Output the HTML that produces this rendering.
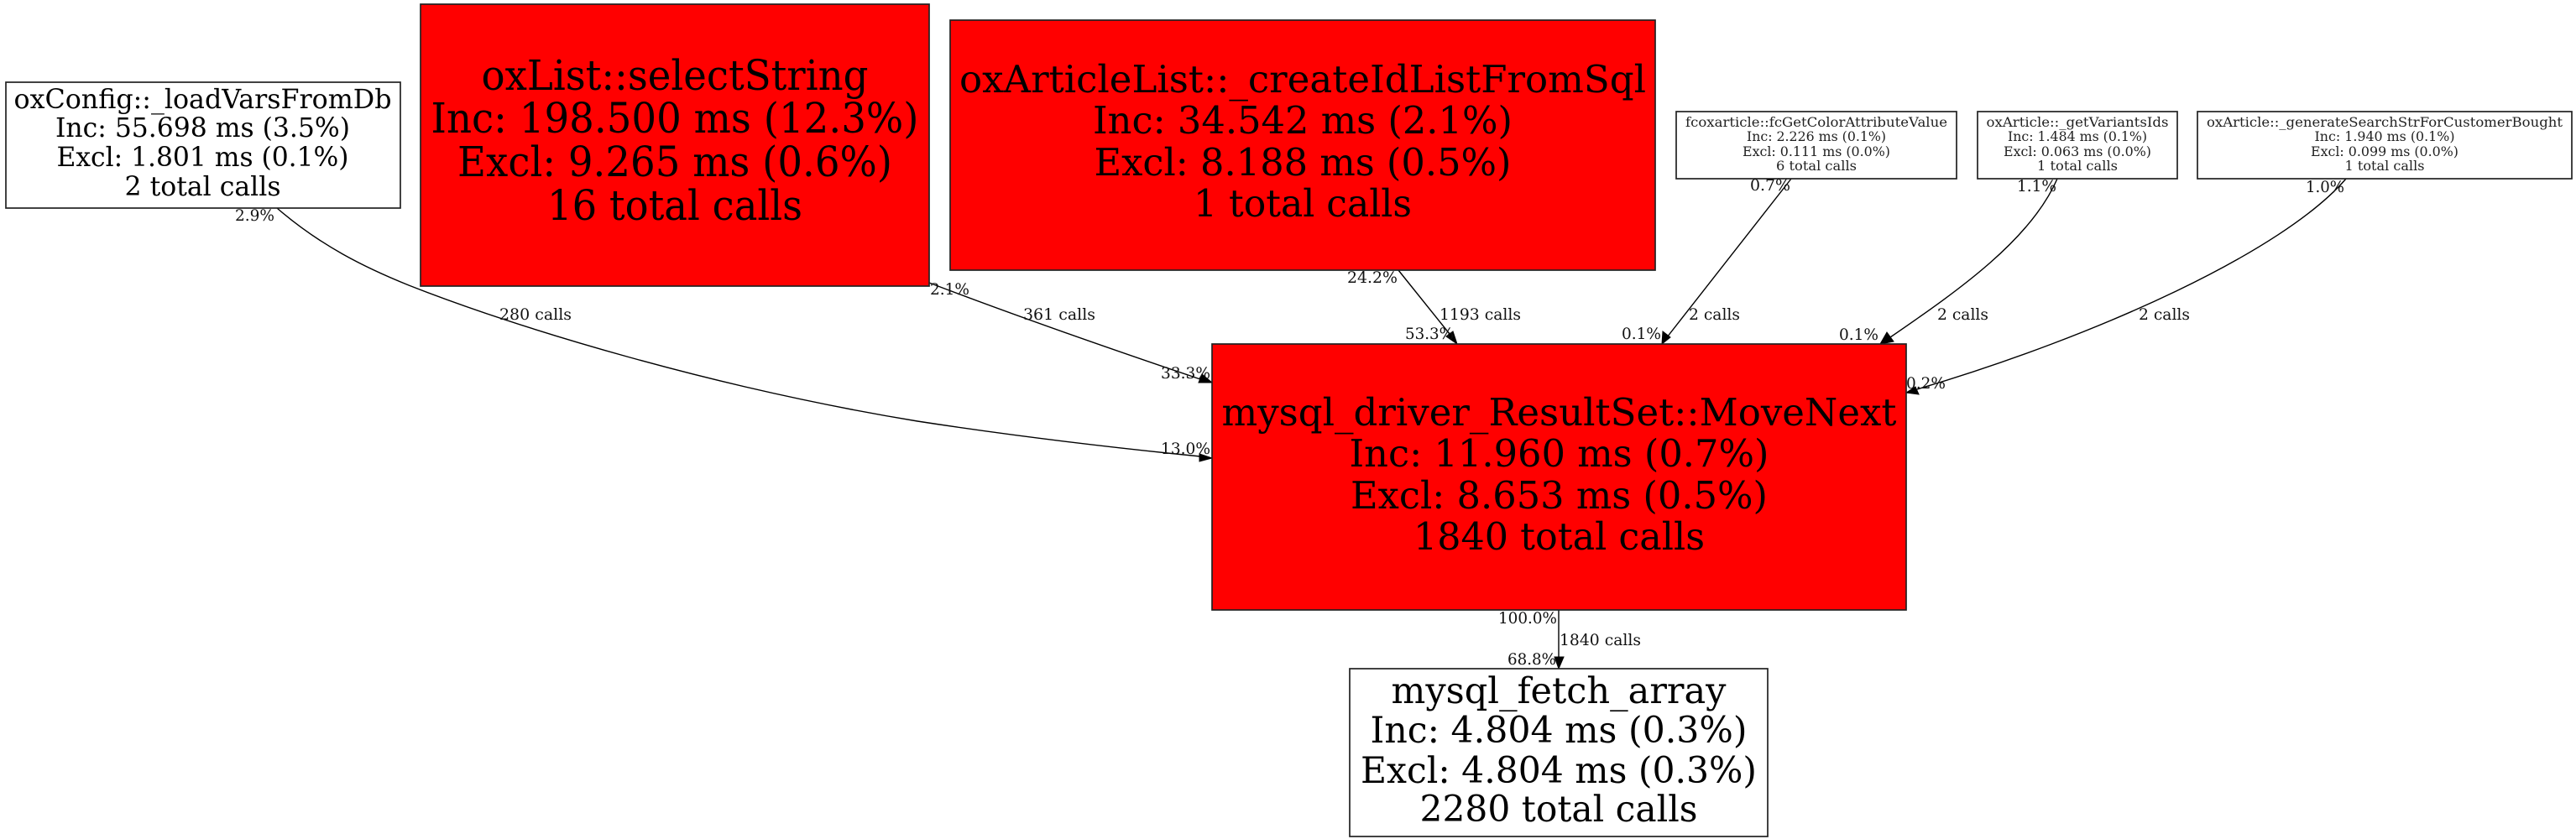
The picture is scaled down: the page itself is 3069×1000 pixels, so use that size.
<!DOCTYPE html>
<html><head><meta charset="utf-8"><style>
html,body{margin:0;padding:0;background:#fff;width:3069px;height:1000px;overflow:hidden}
svg{display:block}
text{font-family:"DejaVu Serif","Liberation Serif",serif;fill:#000}
.m{text-anchor:middle}
.s{fill:#222}
.e{font-size:18.6px;fill:#111}
rect{stroke:#222;stroke-width:1.7}
path{fill:none;stroke:#000;stroke-width:1.4}
polygon{fill:#000;stroke:#000;stroke-width:1}
</style></head><body>
<svg xmlns="http://www.w3.org/2000/svg" width="3069" height="1000" viewBox="0 0 3069 1000">
<rect width="3069" height="1000" style="fill:#fff;stroke:none"/>

<!-- edges -->
<path d="M330 248C382 293 435 319 487 340C620 392 850 462 1093 502C1210 520 1320 533 1430 544"/>
<polygon points="1444,546 1429,541 1429,550"/>
<path d="M1107 337C1180 365 1300 408 1430 452"/>
<polygon points="1444,456 1432,446 1428,456"/>
<path d="M1666 322L1727 398"/>
<polygon points="1736,410 1731,395 1723,401"/>
<path d="M2134 213L1986 402"/>
<polygon points="1980,410 1981,395 1990,402"/>
<path d="M2451 213C2420 285 2335 345 2252 402"/>
<polygon points="2240,410 2248,396 2256,407"/>
<path d="M2795 213C2720 300 2500 400 2284 464"/>
<polygon points="2271,468 2282,461 2286,470"/>
<path d="M1857 727L1857 783"/>
<polygon points="1857,797 1852,783 1863,783"/>

<!-- nodes -->
<rect x="7" y="98" width="470" height="150" style="fill:#fff"/>
<text class="m" x="241.5" y="129" font-size="31.4" textLength="450" lengthAdjust="spacingAndGlyphs">oxConfig::_loadVarsFromDb</text>
<text class="m" x="241.5" y="163" font-size="31.4" textLength="351" lengthAdjust="spacingAndGlyphs">Inc: 55.698 ms (3.5%)</text>
<text class="m" x="241.5" y="198" font-size="31.4" textLength="348" lengthAdjust="spacingAndGlyphs">Excl: 1.801 ms (0.1%)</text>
<text class="m" x="241.5" y="233" font-size="31.4" textLength="186" lengthAdjust="spacingAndGlyphs">2 total calls</text>

<rect x="501" y="5" width="606" height="336" style="fill:#f00"/>
<text class="m" x="804" y="107" font-size="49.2" textLength="461" lengthAdjust="spacingAndGlyphs">oxList::selectString</text>
<text class="m" x="804" y="158" font-size="49.2" textLength="581" lengthAdjust="spacingAndGlyphs">Inc: 198.500 ms (12.3%)</text>
<text class="m" x="804" y="210" font-size="49.2" textLength="518" lengthAdjust="spacingAndGlyphs">Excl: 9.265 ms (0.6%)</text>
<text class="m" x="804" y="262" font-size="49.2" textLength="304" lengthAdjust="spacingAndGlyphs">16 total calls</text>

<rect x="1132" y="24" width="840" height="298" style="fill:#f00"/>
<text class="m" x="1552" y="110" font-size="44.7" textLength="818" lengthAdjust="spacingAndGlyphs">oxArticleList::_createIdListFromSql</text>
<text class="m" x="1552" y="159" font-size="44.7" textLength="500" lengthAdjust="spacingAndGlyphs">Inc: 34.542 ms (2.1%)</text>
<text class="m" x="1552" y="209" font-size="44.7" textLength="497" lengthAdjust="spacingAndGlyphs">Excl: 8.188 ms (0.5%)</text>
<text class="m" x="1552" y="258" font-size="44.7" textLength="260" lengthAdjust="spacingAndGlyphs">1 total calls</text>

<rect x="1997" y="133" width="334" height="80" style="fill:#fff"/>
<text class="m s" x="2164" y="151" font-size="15.75" textLength="312" lengthAdjust="spacingAndGlyphs">fcoxarticle::fcGetColorAttributeValue</text>
<text class="m s" x="2164" y="168" font-size="15.75" textLength="166" lengthAdjust="spacingAndGlyphs">Inc: 2.226 ms (0.1%)</text>
<text class="m s" x="2164" y="186" font-size="15.75" textLength="176" lengthAdjust="spacingAndGlyphs">Excl: 0.111 ms (0.0%)</text>
<text class="m s" x="2164" y="203" font-size="15.75" textLength="96" lengthAdjust="spacingAndGlyphs">6 total calls</text>

<rect x="2356" y="133" width="238" height="80" style="fill:#fff"/>
<text class="m s" x="2475" y="151" font-size="15.75" textLength="217" lengthAdjust="spacingAndGlyphs">oxArticle::_getVariantsIds</text>
<text class="m s" x="2475" y="168" font-size="15.75" textLength="166" lengthAdjust="spacingAndGlyphs">Inc: 1.484 ms (0.1%)</text>
<text class="m s" x="2475" y="186" font-size="15.75" textLength="176" lengthAdjust="spacingAndGlyphs">Excl: 0.063 ms (0.0%)</text>
<text class="m s" x="2475" y="203" font-size="15.75" textLength="96" lengthAdjust="spacingAndGlyphs">1 total calls</text>

<rect x="2618" y="133" width="446" height="80" style="fill:#fff"/>
<text class="m s" x="2841" y="151" font-size="15.75" textLength="424" lengthAdjust="spacingAndGlyphs">oxArticle::_generateSearchStrForCustomerBought</text>
<text class="m s" x="2841" y="168" font-size="15.75" textLength="167" lengthAdjust="spacingAndGlyphs">Inc: 1.940 ms (0.1%)</text>
<text class="m s" x="2841" y="186" font-size="15.75" textLength="176" lengthAdjust="spacingAndGlyphs">Excl: 0.099 ms (0.0%)</text>
<text class="m s" x="2841" y="203" font-size="15.75" textLength="95" lengthAdjust="spacingAndGlyphs">1 total calls</text>

<rect x="1444" y="410" width="827" height="317" style="fill:#f00"/>
<text class="m" x="1857.5" y="507" font-size="44.7" textLength="804" lengthAdjust="spacingAndGlyphs">mysql_driver_ResultSet::MoveNext</text>
<text class="m" x="1857.5" y="556" font-size="44.7" textLength="500" lengthAdjust="spacingAndGlyphs">Inc: 11.960 ms (0.7%)</text>
<text class="m" x="1857.5" y="606" font-size="44.7" textLength="497" lengthAdjust="spacingAndGlyphs">Excl: 8.653 ms (0.5%)</text>
<text class="m" x="1857.5" y="655" font-size="44.7" textLength="347" lengthAdjust="spacingAndGlyphs">1840 total calls</text>

<rect x="1608" y="797" width="498" height="200" style="fill:#fff"/>
<text class="m" x="1857" y="838" font-size="42.6" textLength="399" lengthAdjust="spacingAndGlyphs">mysql_fetch_array</text>
<text class="m" x="1857" y="885" font-size="42.6" textLength="449" lengthAdjust="spacingAndGlyphs">Inc: 4.804 ms (0.3%)</text>
<text class="m" x="1857" y="933" font-size="42.6" textLength="472" lengthAdjust="spacingAndGlyphs">Excl: 4.804 ms (0.3%)</text>
<text class="m" x="1857" y="979" font-size="42.6" textLength="331" lengthAdjust="spacingAndGlyphs">2280 total calls</text>

<!-- edge labels -->
<text class="e" x="280" y="263" textLength="47" lengthAdjust="spacingAndGlyphs">2.9%</text>
<text class="e" x="595" y="381" textLength="86" lengthAdjust="spacingAndGlyphs">280 calls</text>
<text class="e" x="1108" y="351" textLength="47" lengthAdjust="spacingAndGlyphs">2.1%</text>
<text class="e" x="1219" y="381" textLength="86" lengthAdjust="spacingAndGlyphs">361 calls</text>
<text class="e" x="1383" y="451" textLength="59" lengthAdjust="spacingAndGlyphs">33.3%</text>
<text class="e" x="1383" y="541" textLength="59" lengthAdjust="spacingAndGlyphs">13.0%</text>
<text class="e" x="1605" y="337" textLength="60" lengthAdjust="spacingAndGlyphs">24.2%</text>
<text class="e" x="1715" y="381" textLength="97" lengthAdjust="spacingAndGlyphs">1193 calls</text>
<text class="e" x="1674" y="404" textLength="58" lengthAdjust="spacingAndGlyphs">53.3%</text>
<text class="e" x="1932" y="404" textLength="47" lengthAdjust="spacingAndGlyphs">0.1%</text>
<text class="e" x="2012" y="381" textLength="61" lengthAdjust="spacingAndGlyphs">2 calls</text>
<text class="e" x="2308" y="381" textLength="61" lengthAdjust="spacingAndGlyphs">2 calls</text>
<text class="e" x="2548" y="381" textLength="61" lengthAdjust="spacingAndGlyphs">2 calls</text>
<text class="e" x="2191" y="405" textLength="47" lengthAdjust="spacingAndGlyphs">0.1%</text>
<text class="e" x="2271" y="463" textLength="47" lengthAdjust="spacingAndGlyphs">0.2%</text>
<text class="e" x="2085" y="227" textLength="48" lengthAdjust="spacingAndGlyphs">0.7%</text>
<text class="e" x="2403" y="228" textLength="47" lengthAdjust="spacingAndGlyphs">1.1%</text>
<text class="e" x="2747" y="229" textLength="46" lengthAdjust="spacingAndGlyphs">1.0%</text>
<text class="e" x="1785" y="743" textLength="70" lengthAdjust="spacingAndGlyphs">100.0%</text>
<text class="e" x="1858" y="769" textLength="97" lengthAdjust="spacingAndGlyphs">1840 calls</text>
<text class="e" x="1796" y="792" textLength="58" lengthAdjust="spacingAndGlyphs">68.8%</text>
</svg>
</body></html>
